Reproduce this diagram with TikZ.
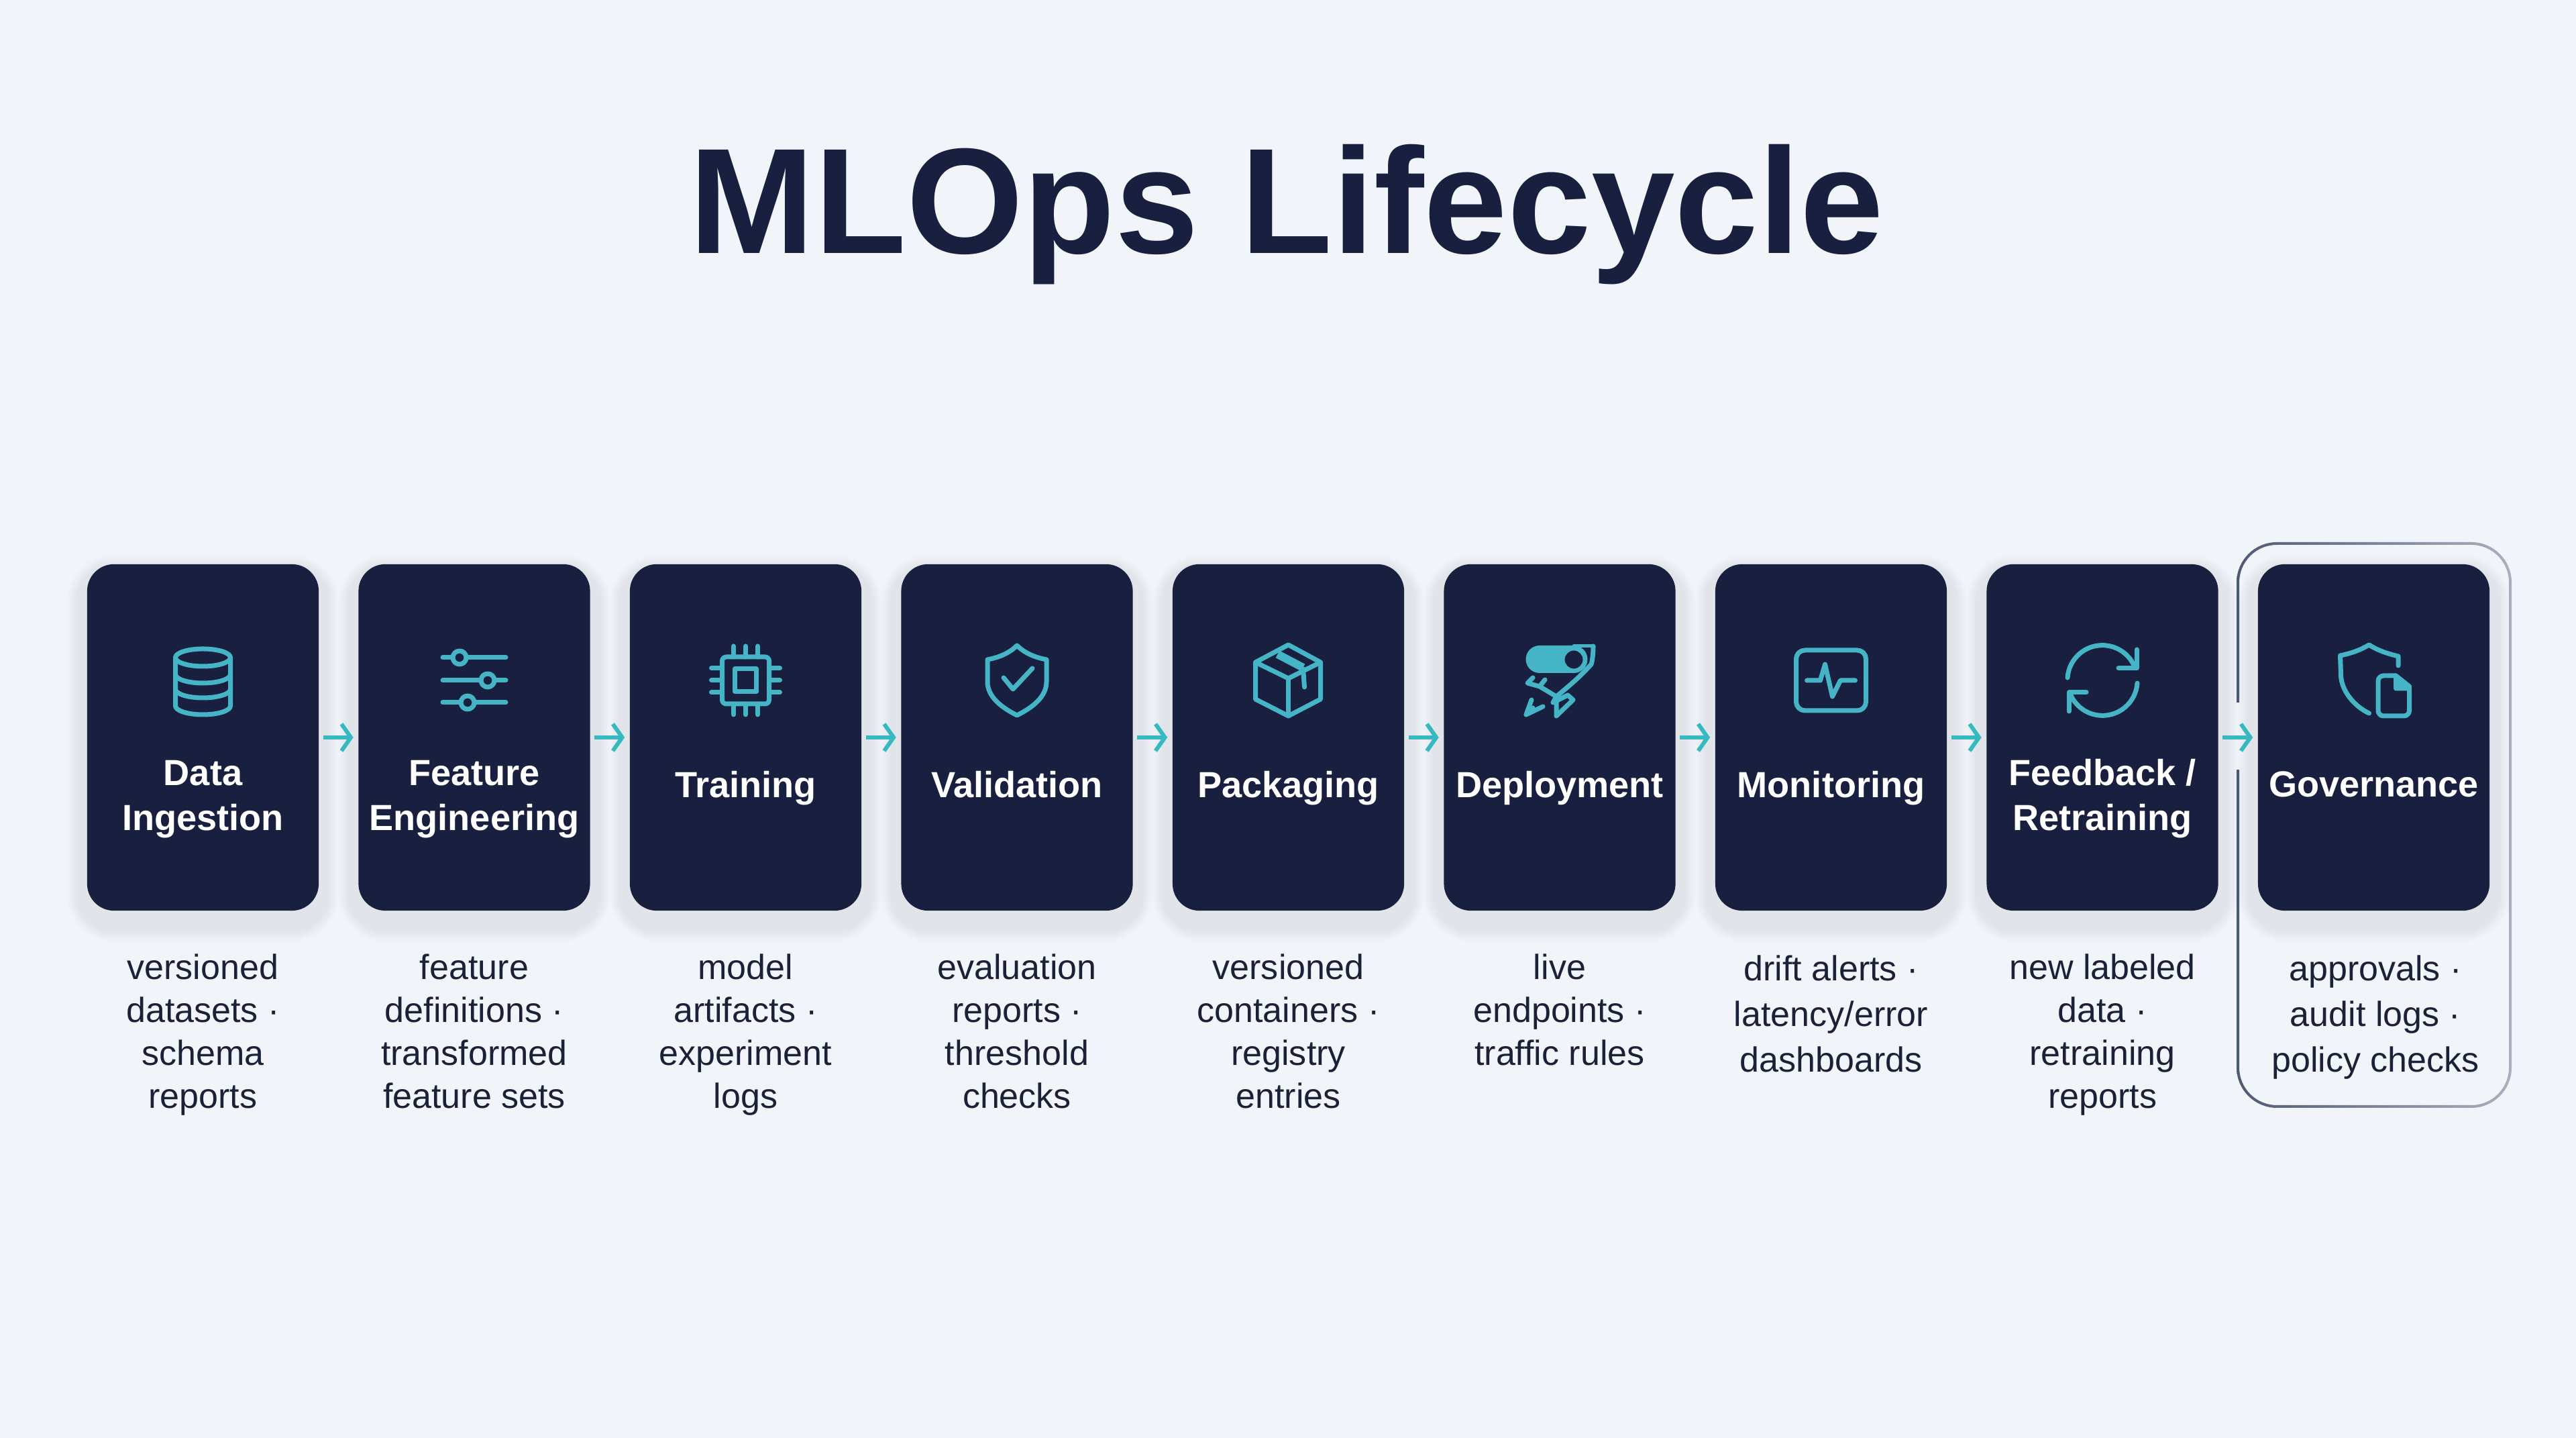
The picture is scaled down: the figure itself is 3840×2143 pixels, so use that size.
\documentclass[tikz,border=0pt]{standalone}
\usepackage{fontspec}
\setmainfont{Liberation Sans}
\usetikzlibrary{arrows.meta}
\definecolor{pagebg}{HTML}{F1F4F9}
\definecolor{navy}{HTML}{19203F}
\definecolor{teal}{HTML}{45B4C6}
\definecolor{arrowteal}{HTML}{36B9C0}
\definecolor{inktext}{HTML}{1B2238}
\definecolor{shadowc}{HTML}{4A5368}
\definecolor{ringdark}{HTML}{4F5A72}
\definecolor{ringlight}{HTML}{A9B0BF}

\begin{document}
\begin{tikzpicture}[x=0.01cm,y=0.01cm]
  \tikzstyle{soft} = [preaction={draw=shadowc, line width=#1, draw opacity=0.011, transform canvas={yshift=-0.16cm}}]
  \tikzstyle{cardnode} = [soft=0.6cm, soft=0.56cm, soft=0.52cm, soft=0.48cm, soft=0.44cm, soft=0.4cm, soft=0.36cm, soft=0.32cm, fill=navy, rounded corners=0.4cm, minimum width=3.45cm, minimum height=5.16cm, inner sep=0pt]
  \tikzstyle{cardtext} = [text=white, anchor=north, inner sep=0pt, align=center, font=\fontsize{15.4}{18.8}\selectfont\bfseries]
  \tikzstyle{desctext} = [text=inktext, anchor=north, inner sep=0pt, align=center, font=\fontsize{14.8}{18.2}\selectfont]
  \tikzstyle{descwide} = [desctext, font=\fontsize{14.8}{19.35}\selectfont]
  \tikzstyle{flowarrow} = [draw=arrowteal, line width=0.06cm, -{Straight Barb[length=0.14cm,width=0.4cm,line width=0.06cm]}, shorten <=0.06cm, shorten >=0.07cm]
  \tikzstyle{icon} = [draw=teal, line width=0.07cm, line join=round, line cap=round]

  \fill[pagebg] (0,0) rectangle (3840,2143);
  \useasboundingbox (0,0) rectangle (3840,2143);

  \node[text=navy, inner sep=0pt, anchor=base, font=\fontsize{63.7}{70}\selectfont\bfseries] (title) at (1918,1765) {MLOps Lifecycle};

  % highlight around the last column
  \shade[left color=ringdark, right color=ringlight, even odd rule] (3334,492) [rounded corners=0.6cm] rectangle (3744,1335) (3338,496) [rounded corners=0.56cm] rectangle (3740,1331);
  \fill[pagebg] (3325,996) rectangle (3347,1096);

  \node[cardnode] (c1) at (302.5,1044) {};
  \node[cardnode] (c2) at (707,1044) {};
  \node[cardnode] (c3) at (1111.5,1044) {};
  \node[cardnode] (c4) at (1516,1044) {};
  \node[cardnode] (c5) at (1920.5,1044) {};
  \node[cardnode] (c6) at (2325,1044) {};
  \node[cardnode] (c7) at (2729.5,1044) {};
  \node[cardnode] (c8) at (3134,1044) {};
  \node[cardnode] (c9) at (3538.5,1044) {};

  \draw[flowarrow] (c1) -- (c2);
  \draw[flowarrow] (c2) -- (c3);
  \draw[flowarrow] (c3) -- (c4);
  \draw[flowarrow] (c4) -- (c5);
  \draw[flowarrow] (c5) -- (c6);
  \draw[flowarrow] (c6) -- (c7);
  \draw[flowarrow] (c7) -- (c8);
  \draw[flowarrow] (c8) -- (c9);

  \node[cardtext] (t1) at (302.5,1010) {Data\\Ingestion};
  \node[cardtext] (t2) at (707,1010) {Feature\\Engineering};
  \node[cardtext] (t3) at (1111.5,994) {Training};
  \node[cardtext] (t4) at (1516,994) {Validation};
  \node[cardtext] (t5) at (1920.5,994) {Packaging};
  \node[cardtext] (t6) at (2325,994) {Deployment};
  \node[cardtext] (t7) at (2729.5,994) {Monitoring};
  \node[cardtext] (t8) at (3134,1012) {Feedback /\\Retraining};
  \node[cardtext] (t9) at (3538.5,994) {Governance};

  \node[desctext] (d1) at (302.5,722) {versioned\\datasets ·\\schema\\reports};
  \node[desctext] (d2) at (707,722) {feature\\definitions ·\\transformed\\feature sets};
  \node[desctext] (d3) at (1111.5,722) {model\\artifacts ·\\experiment\\logs};
  \node[desctext] (d4) at (1516,722) {evaluation\\reports ·\\threshold\\checks};
  \node[desctext] (d5) at (1920.5,722) {versioned\\containers ·\\registry\\entries};
  \node[desctext] (d6) at (2325,722) {live\\endpoints ·\\traffic rules};
  \node[descwide] (d7) at (2729.5,720) {drift alerts ·\\latency/error\\dashboards};
  \node[desctext] (d8) at (3134,722) {new labeled\\data ·\\retraining\\reports};
  \node[descwide] (d9) at (3541,720) {approvals ·\\audit logs ·\\policy checks};

  % database
  \begin{scope}[shift={(302.5,1129)}]
    \draw[icon] (0,34) ellipse [x radius=41, y radius=13];
    \draw[icon] (-41,34) -- (-41,-38) arc [start angle=180, end angle=360, x radius=41, y radius=13] -- (41,34);
    \draw[icon] (-41,9) arc [start angle=180, end angle=360, x radius=41, y radius=13];
    \draw[icon] (-41,-13) arc [start angle=180, end angle=360, x radius=41, y radius=13];
  \end{scope}

  % sliders
  \begin{scope}[shift={(707,1129)}]
    \draw[icon] (-47,34) -- (47,34);
    \draw[icon] (-47,0) -- (47,0);
    \draw[icon] (-47,-33) -- (47,-33);
    \draw[icon, fill=navy] (-22,34) circle (10);
    \draw[icon, fill=navy] (20,0) circle (10);
    \draw[icon, fill=navy] (-10,-33) circle (10);
  \end{scope}

  % chip
  \begin{scope}[shift={(1111.5,1129)}]
    \draw[icon, rounded corners=0.06cm] (-35,-35) rectangle (35,35);
    \draw[icon] (-16,-17) rectangle (16,17);
    \draw[icon] (-18,35) -- (-18,51);
    \draw[icon] (0,35) -- (0,51);
    \draw[icon] (18,35) -- (18,51);
    \draw[icon] (-18,-35) -- (-18,-51);
    \draw[icon] (0,-35) -- (0,-51);
    \draw[icon] (18,-35) -- (18,-51);
    \draw[icon] (-35,18) -- (-51,18);
    \draw[icon] (-35,0) -- (-51,0);
    \draw[icon] (-35,-18) -- (-51,-18);
    \draw[icon] (35,18) -- (51,18);
    \draw[icon] (35,0) -- (51,0);
    \draw[icon] (35,-18) -- (51,-18);
  \end{scope}

  % shield with check
  \begin{scope}[shift={(1516,1129)}]
    \draw[icon] (0,52) .. controls (-12,40) and (-28,34) .. (-44,31) -- (-44,-2) .. controls (-44,-24) and (-24,-40) .. (0,-52) .. controls (24,-40) and (44,-24) .. (44,-2) -- (44,31) .. controls (28,34) and (12,40) .. (0,52) -- cycle;
    \draw[icon] (-20,4) -- (-6,-13) -- (23,18);
  \end{scope}

  % box
  \begin{scope}[shift={(1920.5,1129)}]
    \draw[icon] (0,53) -- (48,27) -- (48,-28) -- (0,-53) -- (-49,-28) -- (-49,27) -- cycle;
    \draw[icon] (-49,27) -- (0,3) -- (48,27);
    \draw[icon] (0,3) -- (0,-53);
    \draw[icon, line width=0.12cm, line cap=butt] (-16,39) -- (22,19);
    \draw[icon] (22,17) -- (24,-10);
  \end{scope}

  % rocket
  \begin{scope}[shift={(2325,1129)}]
    \fill[teal, even odd rule] (-30,52) arc [start angle=90, end angle=270, radius=20.5] -- (21,11) arc [start angle=-90, end angle=90, radius=20.5] -- cycle (21,31) circle (13.5);
    \draw[icon, line width=0.05cm] (21,51) -- (50,51);
    \draw[icon] (50,51) .. controls (50,38) and (48,26) .. (47,24) .. controls (30,5) and (12,-10) .. (-5,-24) -- (-30,-9) -- (-48,-4) -- (-40,4);
    \draw[icon] (-30,-9) -- (-22,1);
    \draw[icon] (-5,-24) -- (-10,-33) -- (12,-22) -- (20,-29) -- (-5,-53) -- cycle;
    \draw[icon] (-42,-29) -- (-50,-51) -- (-25,-39);
    \draw[icon] (-50,-51) -- (-40,-41);
  \end{scope}

  % monitor
  \begin{scope}[shift={(2729.5,1129)}]
    \draw[icon, rounded corners=0.13cm] (-52,-45) rectangle (52,45);
    \draw[icon] (-36,0) -- (-16,0) -- (-9,24) -- (2,-24) -- (14,0) -- (36,0);
  \end{scope}

  % refresh
  \begin{scope}[shift={(3134,1129)}]
    \draw[icon] (-52,4) arc [start angle=176, end angle=22, radius=52];
    \draw[icon] (51,46) -- (51,18) -- (24,18);
    \draw[icon] (52,-4) arc [start angle=-4, end angle=-158, radius=52];
    \draw[icon] (-50,-46) -- (-50,-18) -- (-24,-18);
  \end{scope}

  % shield with document
  \begin{scope}[shift={(3538.5,1129)}]
    \draw[icon] (36.5,22) -- (36.5,36) .. controls (20,40) and (5,45) .. (-7,53) .. controls (-20,45) and (-35,40) .. (-50,37) -- (-49,7) .. controls (-48,-15) and (-30,-38) .. (-7,-49);
    \draw[icon, rounded corners=0.08cm] (33,7) -- (6.5,7) -- (6.5,-53) -- (53,-53) -- (53,-9);
    \draw[icon] (33,7) -- (53,-9);
    \draw[icon, fill=teal] (33,6) -- (33,-12) -- (52,-12) -- cycle;
  \end{scope}

\end{tikzpicture}
\end{document}
